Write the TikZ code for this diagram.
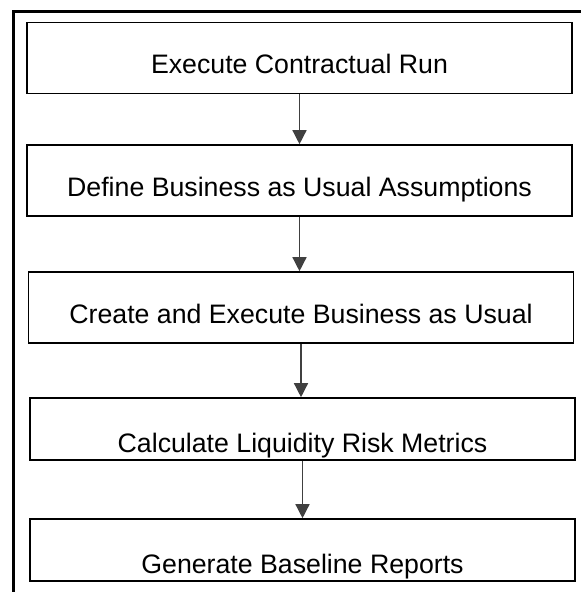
\documentclass[tikz,border=0pt]{standalone}
\usepackage{fontspec}
\setmainfont{Liberation Sans}
\usetikzlibrary{positioning,arrows.meta}

\begin{document}
\begin{tikzpicture}[
  stepbox/.style = {rectangle, draw=black, line width=0.9pt, fill=white,
                    minimum width=10.9cm, minimum height=1.42cm,
                    inner sep=0pt, text height=0.64cm, text depth=0cm,
                    align=center, font=\fontsize{15.2}{18}\selectfont},
  lowbox/.style  = {stepbox, minimum height=1.24cm, text height=0.94cm},
  frame/.style   = {line width=1.7pt, black},
  arr/.style     = {-{Triangle[length=0.28cm, width=0.28cm]},
                    line width=0.8pt, black!75},
]
\useasboundingbox (0,0) rectangle (11.62,11.84);
% outer frame
\draw[frame] (0.27,0) -- (0.27,11.61) -- (11.62,11.61);
% steps
\node[stepbox] (contract) at (5.99, 10.68) {Execute Contractual Run};
\node[stepbox] (assume)   at (5.99,  8.23) {Define Business as Usual Assumptions};
\node[stepbox] (bau)      at (6.02,  5.69) {Create and Execute Business as Usual};
\node[lowbox]  (metrics)  at (6.05,  3.26) {Calculate Liquidity Risk Metrics};
\node[lowbox]  (reports)  at (6.05,  0.84) {Generate Baseline Reports};
% main arrows
\draw[arr] (contract.south) -- (contract.south |- assume.north);
\draw[arr] (assume.south)   -- (assume.south |- bau.north);
\draw[arr] (bau.south)      -- (bau.south |- metrics.north);
\draw[arr] (metrics.south)  -- (metrics.south |- reports.north);
\end{tikzpicture}
\end{document}
